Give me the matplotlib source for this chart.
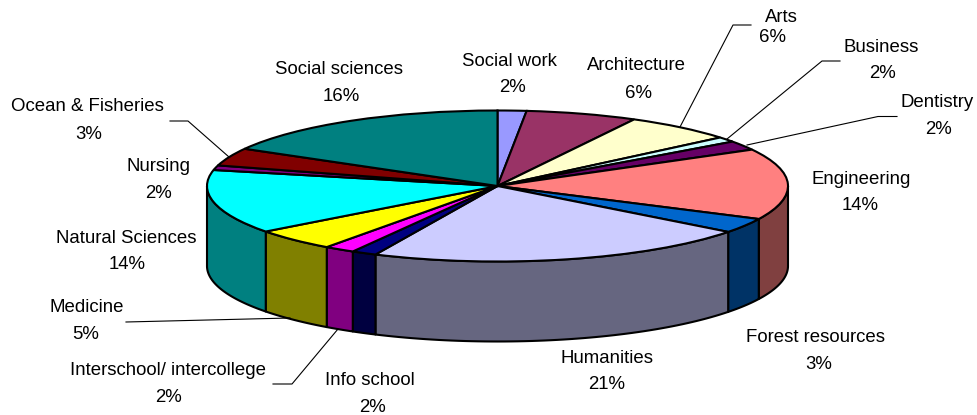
import numpy as np
import matplotlib
matplotlib.use("Agg")
import matplotlib.pyplot as plt
from matplotlib.colors import to_rgb
from matplotlib.transforms import Affine2D

plt.rcParams['font.family'] = ['Liberation Sans', 'DejaVu Sans']

categories = ["Social work", "Architecture", "Arts", "Business", "Dentistry", "Engineering",
              "Forest resources", "Humanities", "Info school", "Interschool/ intercollege",
              "Medicine", "Natural Sciences", "Nursing", "Ocean & Fisheries", "Social sciences"]
# printed percentages
percents = [2, 6, 6, 2, 2, 14, 3, 21, 2, 2, 5, 14, 2, 3, 16]
# slice sizes as they look in the picture (perspective skews them a bit)
shares = [1.6, 6.2, 6.1, 1.1, 2.0, 15.2, 3.2, 21.5, 1.4, 1.7, 4.7, 13.7, 1.0, 3.8, 16.8]
colors = ["#9999FF", "#993366", "#FFFFCC", "#CCFFFF", "#660066", "#FF8080", "#0066CC", "#CCCCFF",
          "#000080", "#FF00FF", "#FFFF00", "#00FFFF", "#800080", "#800000", "#008080"]

# pixel layout of the pie
cx, cy = 497.5, 186
rx, ry = 290.5, 75.5
depth = 80

# (x, y) centres of the name line and of the percent line
name_pos = [(509, 61), (636, 66), (781, 17), (881, 47), (937, 102), (861, 179), (816, 337), (607, 358),
            (370, 380), (168, 370), (87, 307), (126, 238), (158, 166), (87, 106), (339, 69)]
pct_pos = [(512, 88), (638, 93), (773, 38), (883, 74), (938, 129), (860, 205), (819, 364), (607, 384),
           (372, 407), (169, 397), (86, 334), (127, 264), (159, 193), (89, 134), (341, 96)]

leaders = [[(751, 25), (733, 25), (680, 127)],
           [(840, 61), (822, 61), (727, 139)],
           [(897, 116.5), (878, 116.5), (747, 145)],
           [(126, 322), (290, 318)],
           [(273, 384), (292, 384), (338, 329)],
           [(170, 121), (188, 121), (229, 157)]]


def main():
    fig = plt.figure(figsize=(9.77, 4.15), dpi=100)
    ax = fig.add_axes([0, 0, 1, 1])

    # side wall, only the front half of the rim shows
    edges = np.concatenate([[0], np.cumsum(shares)]) / np.sum(shares) * 360
    for i, col in enumerate(colors):
        a0 = max(edges[i], 90)
        a1 = min(edges[i + 1], 270)
        if a1 <= a0:
            continue
        t = np.radians(np.linspace(a0, a1, 60))
        x = cx + rx * np.sin(t)
        y = cy - ry * np.cos(t)
        side = np.array(to_rgb(col)) * 0.5
        ax.fill(np.r_[x, x[::-1]], np.r_[y, y[::-1] + depth], facecolor=side,
                edgecolor="black", linewidth=1.5, joinstyle="round", zorder=1)

    # top face, a normal pie squashed into the ellipse
    wedges, _ = ax.pie(shares, colors=colors, startangle=90, counterclock=False, frame=True,
                       wedgeprops={"edgecolor": "black", "linewidth": 1.5})
    squash = Affine2D().scale(rx, -ry).translate(cx, cy) + ax.transData
    for w in wedges:
        w.set_transform(squash)
        w.set_zorder(2)

    for pts in leaders:
        pts = np.array(pts)
        ax.plot(pts[:, 0], pts[:, 1], color="black", linewidth=0.8, zorder=3)

    for name, pct, p1, p2 in zip(categories, percents, name_pos, pct_pos):
        ax.text(p1[0], p1[1], name, fontsize=13.4, ha="center", va="center", color="black")
        ax.text(p2[0], p2[1], f"{pct}%", fontsize=13.4, ha="center", va="center", color="black")

    ax.set_aspect("auto")
    ax.set_xlim(0, 977)
    ax.set_ylim(415, 0)
    ax.axis("off")
    fig.savefig("out.png", dpi=100, facecolor="white")


if __name__ == "__main__":
    main()
